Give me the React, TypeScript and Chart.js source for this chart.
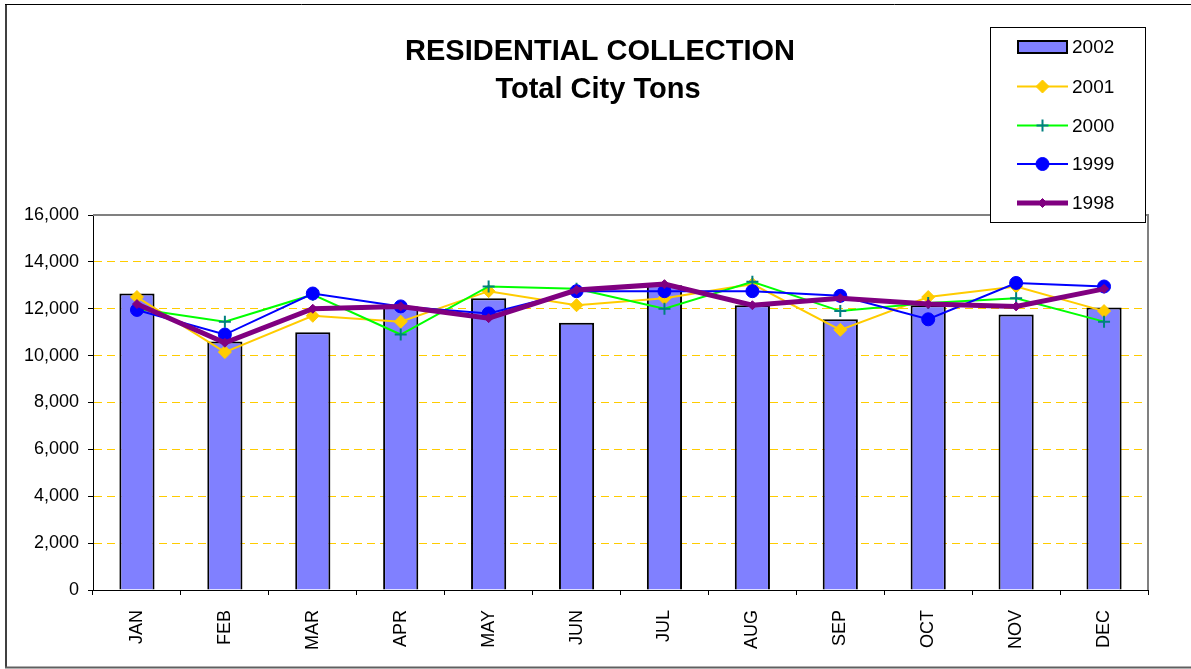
import React, { useEffect, useRef } from 'react';
import { Chart, registerables } from 'chart.js';

Chart.register(...registerables);

const titleLines = ['RESIDENTIAL COLLECTION', 'Total City Tons'];
const months = ['JAN', 'FEB', 'MAR', 'APR', 'MAY', 'JUN', 'JUL', 'AUG', 'SEP', 'OCT', 'NOV', 'DEC'];
const seriesNames = ['2002', '2001', '2000', '1999', '1998'];
const tons2002 = [12650, 10600, 11000, 12100, 12450, 11400, 13000, 12150, 11550, 12150, 11750, 12050];
const tons2001 = [12500, 10150, 11700, 11450, 12750, 12150, 12450, 13050, 11100, 12500, 12950, 11900];
const tons2000 = [12000, 11450, 12600, 10900, 12950, 12850, 12000, 13150, 11900, 12250, 12450, 11450];
const tons1999 = [11950, 10900, 12650, 12100, 11800, 12750, 12750, 12750, 12550, 11550, 13100, 12950];
const tons1998 = [12200, 10550, 12000, 12100, 11600, 12800, 13050, 12150, 12450, 12200, 12100, 12850];
const yTickValues = [0, 2000, 4000, 6000, 8000, 10000, 12000, 14000, 16000];

const FONT = '"Liberation Sans", Arial, Helvetica, sans-serif';

function drawMarker(ctx: CanvasRenderingContext2D, style: string, x: number, y: number, r: number, fill: string, stroke: string, lw: number) {
  ctx.save();
  ctx.fillStyle = fill;
  ctx.strokeStyle = stroke;
  ctx.lineWidth = lw;
  ctx.beginPath();
  if (style === 'circle') {
    ctx.arc(x, y, r, 0, Math.PI * 2);
    ctx.fill();
    ctx.stroke();
  } else if (style === 'rectRot') {
    ctx.moveTo(x - r, y);
    ctx.lineTo(x, y - r);
    ctx.lineTo(x + r, y);
    ctx.lineTo(x, y + r);
    ctx.closePath();
    ctx.fill();
    ctx.stroke();
  } else if (style === 'cross') {
    ctx.moveTo(x - r, y);
    ctx.lineTo(x + r, y);
    ctx.moveTo(x, y - r);
    ctx.lineTo(x, y + r);
    ctx.stroke();
  }
  ctx.restore();
}

const decorPlugin = {
  id: 'decor',
  beforeDraw(chart: any) {
    const ctx = chart.ctx;
    ctx.save();
    ctx.fillStyle = '#ffffff';
    ctx.fillRect(0, 0, chart.width, chart.height);
    ctx.restore();
  },
  afterDraw(chart: any) {
    const ctx: CanvasRenderingContext2D = chart.ctx;
    const a = chart.chartArea;
    ctx.save();
    // plot area top/right border
    ctx.strokeStyle = '#808080';
    ctx.lineWidth = 2;
    ctx.beginPath();
    ctx.moveTo(a.left, a.top);
    ctx.lineTo(a.right, a.top);
    ctx.lineTo(a.right, a.bottom);
    ctx.stroke();

    // title
    ctx.fillStyle = '#000';
    ctx.textAlign = 'center';
    ctx.textBaseline = 'middle';
    ctx.font = `bold 29px ${FONT}`;
    ctx.fillText(titleLines[0], 600, 52);
    ctx.fillText(titleLines[1], 598, 90);

    // legend box
    const lx = 990, ly = 27, lw = 155, lh = 195;
    ctx.fillStyle = '#ffffff';
    ctx.fillRect(lx, ly, lw, lh);
    ctx.strokeStyle = '#000';
    ctx.lineWidth = 1;
    ctx.strokeRect(lx + 0.5, ly + 0.5, lw, lh);

    const rows = [47, 86.5, 125.5, 164, 203];
    const ds = chart.data.datasets;
    for (let i = 0; i < seriesNames.length; i++) {
      const y = rows[i];
      const d = ds[i];
      if (i === 0) {
        ctx.fillStyle = d.backgroundColor;
        ctx.fillRect(1018, y - 6, 49, 12);
        ctx.strokeStyle = '#000';
        ctx.lineWidth = 2;
        ctx.strokeRect(1018, y - 6, 49, 12);
      } else {
        ctx.strokeStyle = d.borderColor;
        ctx.lineWidth = d.borderWidth;
        ctx.beginPath();
        ctx.moveTo(1017, y);
        ctx.lineTo(1068, y);
        ctx.stroke();
        drawMarker(ctx, d.pointStyle, 1042.5, y, d.pointRadius, d.pointBackgroundColor, d.pointBorderColor, d.pointBorderWidth);
      }
      ctx.fillStyle = '#000';
      ctx.textAlign = 'left';
      ctx.textBaseline = 'middle';
      ctx.font = `19px ${FONT}`;
      ctx.fillText(seriesNames[i], 1072, y + 1);
    }

    // outer frame
    ctx.strokeStyle = '#404040';
    ctx.lineWidth = 2;
    ctx.beginPath();
    ctx.moveTo(6, 4);
    ctx.lineTo(6, 668);
    ctx.stroke();
    ctx.strokeStyle = '#000';
    ctx.lineWidth = 1;
    ctx.beginPath();
    ctx.moveTo(5, 4.5);
    ctx.lineTo(1191, 4.5);
    ctx.stroke();
    ctx.strokeStyle = '#606060';
    ctx.lineWidth = 2;
    ctx.beginPath();
    ctx.moveTo(5, 667.5);
    ctx.lineTo(1191, 667.5);
    ctx.stroke();
    ctx.restore();
  },
};

export default function App() {
  const ref = useRef<HTMLCanvasElement | null>(null);

  useEffect(() => {
    if (!ref.current) return;
    const chart = new Chart(ref.current, {
      type: 'bar',
      data: {
        labels: months,
        datasets: [
          {
            type: 'bar',
            label: seriesNames[0],
            data: tons2002,
            backgroundColor: '#8080FF',
            borderColor: '#000000',
            borderWidth: 2,
            barPercentage: 0.4,
            categoryPercentage: 1,
            order: 5,
          } as any,
          {
            type: 'line',
            label: seriesNames[1],
            data: tons2001,
            borderColor: '#FFCC00',
            borderWidth: 2,
            pointStyle: 'rectRot',
            pointRadius: 6.5,
            pointBackgroundColor: '#FFCC00',
            pointBorderColor: '#FFCC00',
            pointBorderWidth: 1,
            tension: 0,
            order: 4,
          },
          {
            type: 'line',
            label: seriesNames[2],
            data: tons2000,
            borderColor: '#00FF00',
            borderWidth: 2,
            pointStyle: 'cross',
            pointRadius: 6,
            pointBackgroundColor: '#008080',
            pointBorderColor: '#008080',
            pointBorderWidth: 2,
            tension: 0,
            order: 3,
          },
          {
            type: 'line',
            label: seriesNames[3],
            data: tons1999,
            borderColor: '#0000FF',
            borderWidth: 2,
            pointStyle: 'circle',
            pointRadius: 6.5,
            pointBackgroundColor: '#0000FF',
            pointBorderColor: '#0000FF',
            pointBorderWidth: 1,
            tension: 0,
            order: 2,
          },
          {
            type: 'line',
            label: seriesNames[4],
            data: tons1998,
            borderColor: '#800080',
            borderWidth: 5,
            pointStyle: 'rectRot',
            pointRadius: 4.5,
            pointBackgroundColor: '#800080',
            pointBorderColor: '#800080',
            pointBorderWidth: 1,
            tension: 0,
            order: 1,
          },
        ],
      },
      options: {
        responsive: false,
        animation: false,
        events: [],
        devicePixelRatio: 1,
        layout: { padding: { left: 8, right: 43, top: 215, bottom: 0 } },
        plugins: {
          legend: { display: false },
          tooltip: { enabled: false },
          title: { display: false },
        },
        scales: {
          x: {
            grid: {
              display: true,
              drawOnChartArea: false,
              drawTicks: true,
              tickLength: 5,
              tickColor: '#000',
              offset: true,
            },
            border: { display: true, color: '#000', width: 1 },
            ticks: {
              color: '#000',
              font: { family: FONT, size: 18 },
              minRotation: 90,
              maxRotation: 90,
              padding: 15,
              autoSkip: false,
            },
            afterFit: (s: any) => {
              s.height = 79;
            },
          },
          y: {
            min: 0,
            max: 16000,
            afterBuildTicks: (s: any) => {
              s.ticks = yTickValues.map((v) => ({ value: v }));
            },
            ticks: {
              color: '#000',
              font: { family: FONT, size: 18 },
              padding: 9,
              callback: (v: any) => Number(v).toLocaleString('en-US'),
            },
            grid: {
              color: (c: any) =>
                c.tick && (c.tick.value === 0 || c.tick.value === 16000) ? 'rgba(0,0,0,0)' : '#FFCC00',
              lineWidth: 1,
              drawTicks: true,
              tickLength: 5,
              tickColor: '#000',
            },
            border: { display: true, color: '#000', width: 1, dash: [8, 5] },
            afterFit: (s: any) => {
              s.width = 85;
            },
          },
        },
      },
      plugins: [decorPlugin],
    });
    return () => chart.destroy();
  }, []);

  return (
    <div style={{ position: 'absolute', left: 0, top: 0, width: 1191, height: 669, background: '#fff' }}>
      <canvas ref={ref} width={1191} height={669} style={{ width: 1191, height: 669, display: 'block' }} />
    </div>
  );
}
